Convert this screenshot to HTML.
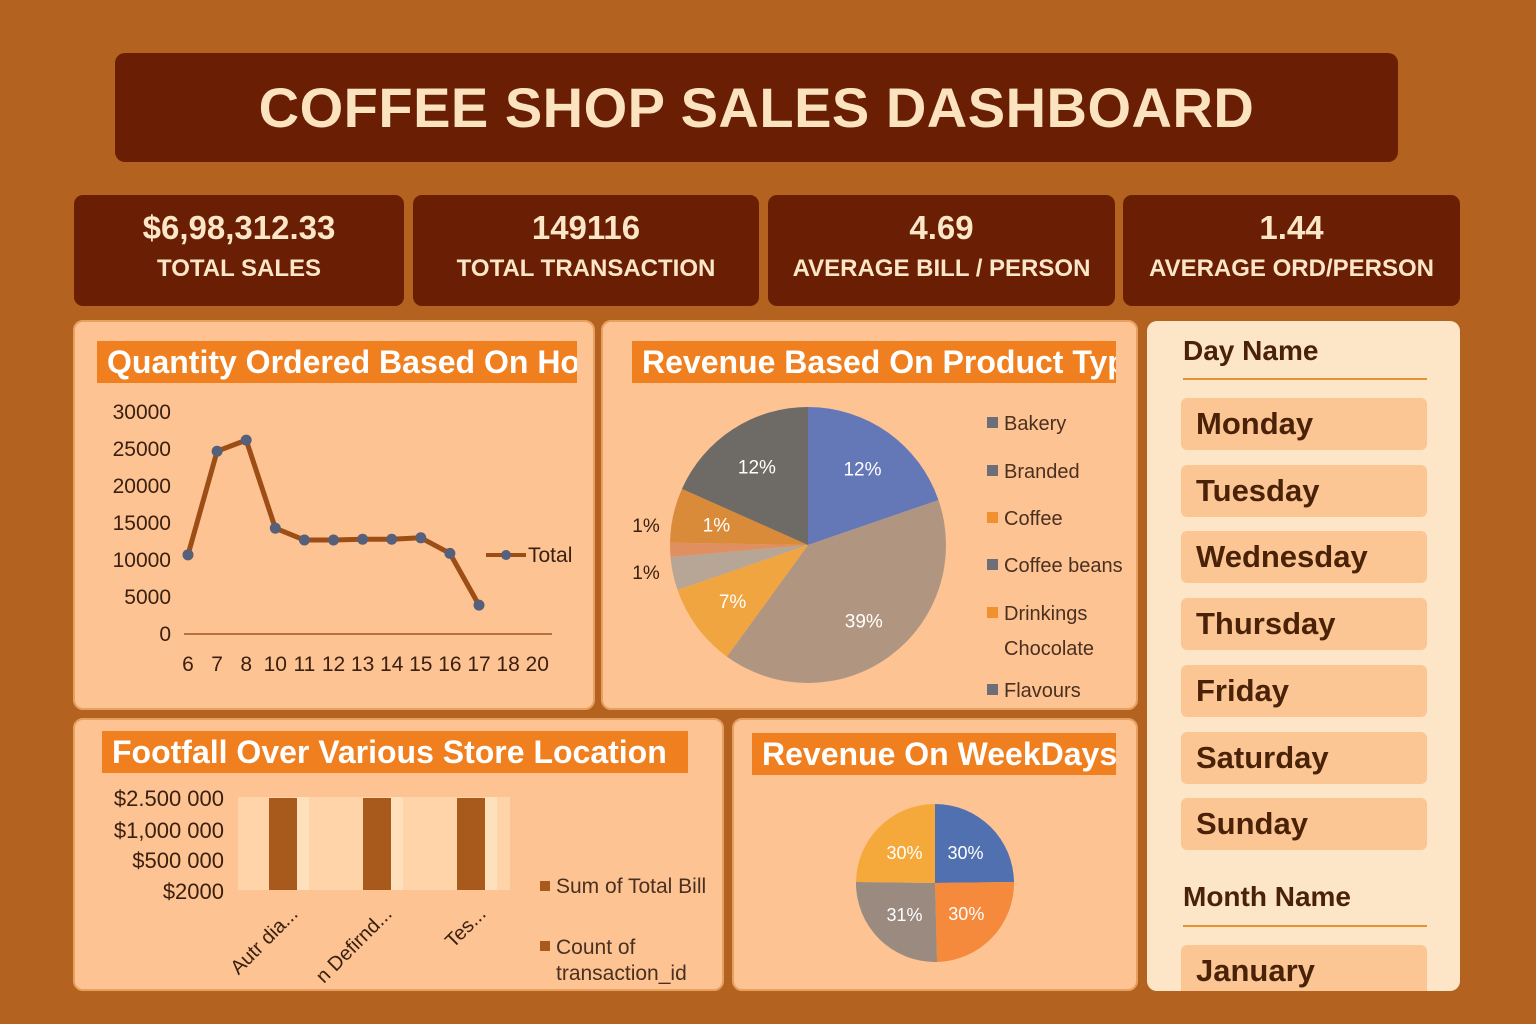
<!DOCTYPE html>
<html><head><meta charset="utf-8"><style>
*{margin:0;padding:0;box-sizing:border-box}
body{width:1536px;height:1024px;background:#b3621f;font-family:"Liberation Sans","DejaVu Sans",sans-serif;position:relative;overflow:hidden}
.abs{position:absolute}
.title{left:115px;top:53px;width:1283px;height:109px;background:#6a1f04;border-radius:10px;color:#fbe3c0;font-size:56px;font-weight:bold;text-align:center;line-height:109px;letter-spacing:0.5px}
.kpi{top:195px;height:111px;background:#6a1f04;border-radius:9px;color:#fbe6c8;text-align:center;font-weight:bold}
.kpi .v{font-size:33px;margin-top:14px}
.kpi .l{font-size:24px;margin-top:8px}
.panel{background:#fec393;border-radius:10px;border:2px solid #e8a060}
.ptitle{background:#f07f1f;color:#fff;font-weight:bold;font-size:32px;white-space:nowrap;overflow:hidden;line-height:42px;padding-left:10px;font-family:"Liberation Sans Narrow","Liberation Sans",sans-serif}
.slicer{left:1147px;top:321px;width:313px;height:670px;background:#fde6c8;border-radius:10px;overflow:hidden}
.sh{color:#4a2208;font-weight:bold;font-size:28px;position:absolute;left:36px}
.sl{position:absolute;left:34px;width:246px;height:52px;background:#fcc594;border-radius:6px;color:#4a2208;font-weight:bold;font-size:31px;line-height:52px;padding-left:15px}
.line{position:absolute;left:36px;width:244px;height:2px;background:#e8912f}
svg text{font-family:"Liberation Sans",sans-serif}
</style></head><body>
<div class="abs title">COFFEE SHOP SALES DASHBOARD</div>
<div class="abs kpi" style="left:74px;width:330px"><div class="v">$6,98,312.33</div><div class="l">TOTAL SALES</div></div>
<div class="abs kpi" style="left:413px;width:346px"><div class="v">149116</div><div class="l">TOTAL TRANSACTION</div></div>
<div class="abs kpi" style="left:768px;width:347px"><div class="v">4.69</div><div class="l">AVERAGE BILL / PERSON</div></div>
<div class="abs kpi" style="left:1123px;width:337px"><div class="v">1.44</div><div class="l">AVERAGE ORD/PERSON</div></div>

<div class="abs panel" style="left:73px;top:320px;width:522px;height:390px"></div>
<div class="abs ptitle" style="left:97px;top:341px;width:480px">Quantity Ordered Based On Hours</div>
<div class="abs panel" style="left:601px;top:320px;width:537px;height:390px"></div>
<div class="abs ptitle" style="left:632px;top:341px;width:484px">Revenue Based On Product Type</div>
<div class="abs panel" style="left:73px;top:718px;width:651px;height:273px"></div>
<div class="abs ptitle" style="left:102px;top:731px;width:586px">Footfall Over Various Store Location</div>
<div class="abs panel" style="left:732px;top:718px;width:406px;height:273px"></div>
<div class="abs ptitle" style="left:752px;top:733px;width:364px">Revenue On WeekDays</div>

<div class="abs slicer">
<div class="sh" style="top:14px">Day Name</div>
<div class="line" style="top:57px"></div>
<div class="sl" style="top:77px">Monday</div>
<div class="sl" style="top:144px">Tuesday</div>
<div class="sl" style="top:210px">Wednesday</div>
<div class="sl" style="top:277px">Thursday</div>
<div class="sl" style="top:344px">Friday</div>
<div class="sl" style="top:411px">Saturday</div>
<div class="sl" style="top:477px">Sunday</div>
<div class="sh" style="top:560px">Month Name</div>
<div class="line" style="top:604px"></div>
<div class="sl" style="top:624px">January</div>
</div>

<svg id="chart" class="abs" style="left:0;top:0" width="1536" height="1024"></svg>
<script>
const hours=["6","7","8","10","11","12","13","14","15","16","17","18","20"];
const qty=[10700,24700,26200,14300,12700,12700,12800,12800,13000,10900,3900,null,null];
const yTicks=[0,5000,10000,15000,20000,25000,30000];
const prodNames=["Bakery","Branded","Coffee","Coffee beans","Drinkings Chocolate","Flavours"];
const prodShares=[71,145,35,14,6,23,66];
const prodLabels=["12%","39%","7%","","","1%","12%"];
const prodColors=["#6478b8","#b09680","#f0a540","#b7a595","#e09060","#d98b3a","#6e6a66"];
const weekVals=[30,30,31,30];
const weekLabels=["30%","30%","31%","30%"];
const weekColors=["#5070b0","#f58a3c","#9a8a80","#f5a93a"];
const locNames=["Autr dia...","n Defirnd...","Tes..."];
const locBill=[2500000,2500000,2500000];
const barTicks=["$2000","$500 000","$1,000 000","$2.500 000"];

const S=document.getElementById('chart');const NS='http://www.w3.org/2000/svg';
function mk(t,a,p){const e=document.createElementNS(NS,t);for(const k in a)e.setAttribute(k,a[k]);(p||S).appendChild(e);return e;}
function tx(x,y,s,o){const e=mk('text',Object.assign({x:x,y:y,'font-size':21,fill:'#3a2010'},o||{}));e.textContent=s;return e;}
// line chart
const xL=i=>188+i*29.1, yL=v=>634-v*0.0074;
const ax=mk('line',{x1:184,x2:552,y1:634,y2:634,stroke:'#a0561c','stroke-width':1.5});

yTicks.forEach(v=>{const t=tx(171,yL(v)+7,String(v),{'text-anchor':'end'});});
hours.forEach((h,i)=>{const t=tx(xL(i),671,h,{'text-anchor':'middle'});});
let d='';qty.forEach((v,i)=>{if(v!=null)d+=(d?'L':'M')+xL(i)+','+yL(v);});
const pl=mk('path',{d:d,fill:'none',stroke:'#9c4e16','stroke-width':5,'stroke-linejoin':'round'});

qty.forEach((v,i)=>{if(v==null)return;const c=mk('circle',{cx:xL(i),cy:yL(v),r:5.5,fill:'#56607a'});});
mk('line',{x1:486,x2:526,y1:555,y2:555,stroke:'#9c4e16','stroke-width':4});
mk('circle',{cx:506,cy:555,r:5,fill:'#56607a'});
const lt=tx(528,562,'Total');
// pie
function pie(cx,cy,r,vals,cols,labs,lr,name,fs){const tot=vals.reduce((a,b)=>a+b,0);let a0=0;
vals.forEach((v,i)=>{const a1=a0+v/tot*2*Math.PI;const p=a=>[cx+r*Math.sin(a),cy-r*Math.cos(a)];const s=p(a0),e=p(a1);
const sl=mk('path',{d:`M${cx},${cy}L${s[0]},${s[1]}A${r},${r} 0 ${a1-a0>Math.PI?1:0} 1 ${e[0]},${e[1]}Z`,fill:cols[i]});

if(labs[i]){const m=(a0+a1)/2;const lx=cx+r*lr*Math.sin(m),ly=cy-r*lr*Math.cos(m);
const t=tx(lx,ly+7,labs[i],{'text-anchor':'middle',fill:'#fff','font-size':fs});}
a0=a1;});}
pie(808,545,138,prodShares,prodColors,prodLabels,0.68,'product',19);
const o1=tx(646,532,'1%',{'text-anchor':'middle','font-size':19});
const o2=tx(646,579,'1%',{'text-anchor':'middle','font-size':19});
const lgc=["#6e6e78","#6e6e78","#f0902f","#6e6e78","#f0902f","#6e6e78"];
const lgy=[423,471,518,565,613,690];
prodNames.forEach((n,i)=>{const r=mk('rect',{x:987,y:lgy[i]-6,width:11,height:11,fill:lgc[i]});
if(n=="Drinkings Chocolate"){tx(1004,lgy[i]+7,'Drinkings',{'font-size':20,fill:'#4a3020'});tx(1004,lgy[i]+42,'Chocolate',{'font-size':20,fill:'#4a3020'});}
else{const t=tx(1004,lgy[i]+7,n,{'font-size':20,fill:'#4a3020'});}});
pie(935,883,79,weekVals,weekColors,weekLabels,0.55,'weekday',18);
// bars
mk('rect',{x:238,y:797,width:272,height:93,fill:'#ffd4a8'});
const yB=v=>890-v/2500000*92;
barTicks.forEach((t,i)=>{const e=tx(224,[899,868,838,806][i],t,{'text-anchor':'end','font-size':22});});
locNames.forEach((n,i)=>{const x=269+i*94;
mk('rect',{x:x+28,y:797,width:12,height:93,fill:'#ffe0bc'});
const b=mk('rect',{x:x,y:yB(locBill[i]),width:28,height:890-yB(locBill[i]),fill:'#a85a1c'});
const t=tx(x+30,915,n,{'text-anchor':'end','font-size':20,transform:`rotate(-45 ${x+30} 915)`});});
mk('rect',{x:540,y:881,width:10,height:10,fill:'#a85a1c'});
const l1=tx(556,893,'Sum of Total Bill',{'font-size':21,fill:'#4a3020'});
mk('rect',{x:540,y:941,width:10,height:10,fill:'#a85a1c'});
tx(556,954,'Count of',{'font-size':21,fill:'#4a3020'});
const l2=tx(556,980,'transaction_id',{'font-size':21,fill:'#4a3020'});
</script>
</body></html>
